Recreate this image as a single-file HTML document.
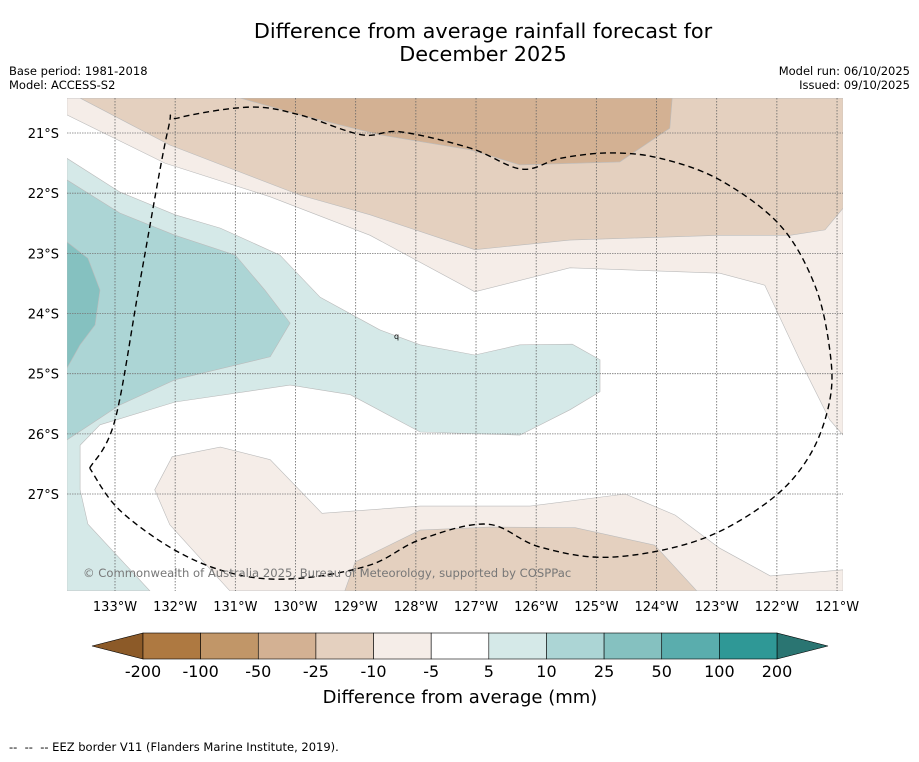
<!DOCTYPE html>
<html><head><meta charset="utf-8"><style>
body{margin:0;background:#fff;font-family:"DejaVu Sans","Liberation Sans",sans-serif;}
svg text{font-family:"DejaVu Sans","Liberation Sans",sans-serif;}
</style></head><body>
<svg id="chart" width="919" height="758" xmlns="http://www.w3.org/2000/svg">
<rect width="919" height="758" fill="#fff"/>
<text x="483" y="38" font-size="20.8" text-anchor="middle">Difference from average rainfall forecast for</text>
<text x="483" y="61" font-size="20.8" text-anchor="middle">December 2025</text>
<text x="9" y="75" font-size="11.5">Base period: 1981-2018</text>
<text x="9" y="89" font-size="11.5">Model: ACCESS-S2</text>
<text x="910" y="75" font-size="11.5" text-anchor="end">Model run: 06/10/2025</text>
<text x="910" y="89" font-size="11.5" text-anchor="end">Issued: 09/10/2025</text>
<defs><clipPath id="pc"><rect x="67" y="98" width="776" height="493"/></clipPath></defs>
<g id="map" clip-path="url(#pc)"></g>
<g id="axes"></g>
<g id="cbar"></g>
<text x="460" y="703" font-size="18" text-anchor="middle">Difference from average (mm)</text>
<text x="9" y="751" font-size="11.5" xml:space="preserve">--  --  -- EEZ border V11 (Flanders Marine Institute, 2019).</text>
</svg>
<script>
const lonTicks=[133,132,131,130,129,128,127,126,125,124,123,122,121];
const latTicks=[21,22,23,24,25,26,27];
const cbarLabels=["-200","-100","-50","-25","-10","-5","5","10","25","50","100","200"];
const cbarColors=["#ae7941","#c19668","#d3b193","#e4d0bf","#f5ede8","#ffffff","#d5e9e8","#acd5d5","#85c1c0","#5aadad","#2f9896"];
const brown1=[[133.8,20.42],[120.9,20.42],[120.9,26.02],[121.12,25.77],[121.62,24.77],[122.2,23.53],[122.95,23.33],[125.44,23.24],[127.02,23.64],[128.76,22.70],[130.42,22.06],[132.17,21.50],[133.8,20.70]];
const brown2=[[133.58,20.42],[120.9,20.42],[120.9,22.25],[121.2,22.61],[121.78,22.70],[122.95,22.70],[125.44,22.78],[127.02,22.94],[128.76,22.36],[129.93,22.03],[132.09,21.20]];
const brown3=[[130.92,20.42],[123.74,20.42],[123.78,20.92],[124.61,21.48],[126.27,21.53],[127.10,21.28],[128.6,21.03],[129.93,20.70]];
const teal1=[[133.8,21.42],[132.92,21.98],[132.0,22.36],[131.25,22.58],[130.26,23.03],[129.59,23.73],[128.6,24.27],[127.93,24.52],[127.02,24.69],[126.27,24.52],[125.4,24.51],[124.94,24.77],[124.94,25.30],[125.44,25.60],[126.27,26.02],[127.93,25.97],[129.09,25.35],[130.09,25.19],[132.0,25.47],[133.25,25.85],[133.58,26.19],[133.58,26.93],[133.45,27.50],[132.42,28.61],[133.8,28.61]];
const teal2=[[133.8,21.78],[132.92,22.33],[132.0,22.70],[131.0,23.03],[130.51,23.61],[130.09,24.16],[130.42,24.72],[132.0,25.10],[132.92,25.52],[133.8,26.10]];
const teal3=[[133.8,22.81],[133.45,23.08],[133.25,23.61],[133.33,24.19],[133.58,24.52],[133.8,24.91]];
const southBrown1=[[132.34,26.93],[132.05,26.38],[131.25,26.22],[130.42,26.43],[129.56,27.32],[127.93,27.20],[126.10,27.20],[124.52,27.0],[123.69,27.35],[122.95,27.90],[122.11,28.36],[120.9,28.26],[120.9,28.61],[131.09,28.61],[132.09,27.51]];
const southBrown2=[[129.18,28.61],[129.01,28.13],[127.93,27.60],[126.77,27.55],[125.35,27.56],[124.03,27.85],[123.33,28.61]];
const eez=[[133.42,26.57],[133,25.77],[132.58,23.44],[132.12,20.95],[131.95,20.75],[130.76,20.57],[129.93,20.70],[128.9,21.03],[128.26,20.98],[127.10,21.25],[126.24,21.60],[125.6,21.42],[124.77,21.33],[123.94,21.42],[122.95,21.78],[121.95,22.53],[121.37,23.53],[121.12,24.61],[121.12,25.44],[121.45,26.35],[122.11,27.10],[123.28,27.76],[124.77,28.05],[125.94,27.88],[126.82,27.50],[127.93,27.76],[128.76,28.18],[129.93,28.40],[130.92,28.35],[131.92,27.98],[132.92,27.27],[133.42,26.57]];

const NS="http://www.w3.org/2000/svg";
const xS=lon=>115+(133-lon)*60.17;
const yS=lat=>133+(lat-21)*60.17;
function mk(tag,attrs,parent){const e=document.createElementNS(NS,tag);for(const k in attrs)e.setAttribute(k,attrs[k]);parent.appendChild(e);return e;}
const map=document.getElementById('map');
const pts=a=>a.map(p=>xS(p[0]).toFixed(1)+','+yS(p[1]).toFixed(1)).join(' ');
function smooth(a){
 const P=a.map(p=>[xS(p[0]),yS(p[1])]);
 let d='M'+P[0][0].toFixed(1)+','+P[0][1].toFixed(1);
 for(let i=0;i<P.length-1;i++){
  const p0=P[Math.max(i-1,0)],p1=P[i],p2=P[i+1],p3=P[Math.min(i+2,P.length-1)];
  const c1=[p1[0]+(p2[0]-p0[0])/6,p1[1]+(p2[1]-p0[1])/6];
  const c2=[p2[0]-(p3[0]-p1[0])/6,p2[1]-(p3[1]-p1[1])/6];
  d+=` C${c1[0].toFixed(1)},${c1[1].toFixed(1)} ${c2[0].toFixed(1)},${c2[1].toFixed(1)} ${p2[0].toFixed(1)},${p2[1].toFixed(1)}`;
 }
 return d;
}
const layers=[[brown1,"#f5ede8","band-minus5-minus10"],[brown2,"#e4d0bf","band-minus10-minus25"],[brown3,"#d3b193","band-minus25-minus50"],[teal1,"#d5e9e8","band-5-10"],[teal2,"#acd5d5","band-10-25"],[teal3,"#85c1c0","band-25-50"],[southBrown1,"#f5ede8","south-band-minus5-minus10"],[southBrown2,"#e4d0bf","south-band-minus10-minus25"]];
layers.forEach(l=>{
 const p=mk('polygon',{points:pts(l[0]),fill:l[1],stroke:"#bbb","stroke-width":0.6},map);
 
 
});
latTicks.forEach(t=>{
 const g=mk('line',{x1:67,x2:843,y1:yS(t),y2:yS(t),stroke:"#777","stroke-width":0.8,"stroke-dasharray":"1.5,1"},map);
 
 
});
lonTicks.forEach(t=>{
 const g=mk('line',{x1:xS(t),x2:xS(t),y1:98,y2:591,stroke:"#666","stroke-width":0.8,"stroke-dasharray":"1.5,1.5"},map);
 
 
});
const ez=mk('path',{d:smooth(eez),fill:"none",stroke:"#000","stroke-width":1.4,"stroke-dasharray":"6,4"},map);


const q=mk('text',{x:394,y:339,"font-size":8},map);q.textContent='q';


const cr=mk('text',{x:83,y:577,"font-size":11.6,fill:"#777"},map);cr.textContent='© Commonwealth of Australia 2025, Bureau of Meteorology, supported by COSPPac';


const ax=document.getElementById('axes');
latTicks.forEach(t=>{
 const e=mk('text',{x:59,y:yS(t)+5,"font-size":13,"text-anchor":"end"},ax);e.textContent=t+'°S';
 
 
});
lonTicks.forEach(t=>{
 const e=mk('text',{x:xS(t),y:611,"font-size":13,"text-anchor":"middle"},ax);e.textContent=t+'°W';
 
 
});
const cb=document.getElementById('cbar');
const x0=143,x1=777,w=(x1-x0)/cbarColors.length;
const lt=mk('polygon',{points:`92,646 ${x0},633 ${x0},659`,fill:"#8c5a28",stroke:"#000","stroke-width":0.6},cb);


const rt=mk('polygon',{points:`828,646 ${x1},633 ${x1},659`,fill:"#2a7572",stroke:"#000","stroke-width":0.6},cb);


cbarColors.forEach((c,i)=>{
 const r=mk('rect',{x:x0+i*w,y:633,width:w,height:26,fill:c,stroke:"#000","stroke-width":0.6},cb);
 
 
});
cbarLabels.forEach((s,i)=>{
 const e=mk('text',{x:x0+i*w,y:677,"font-size":16,"text-anchor":"middle"},cb);e.textContent=s;
 
 
});
</script>
</body></html>
